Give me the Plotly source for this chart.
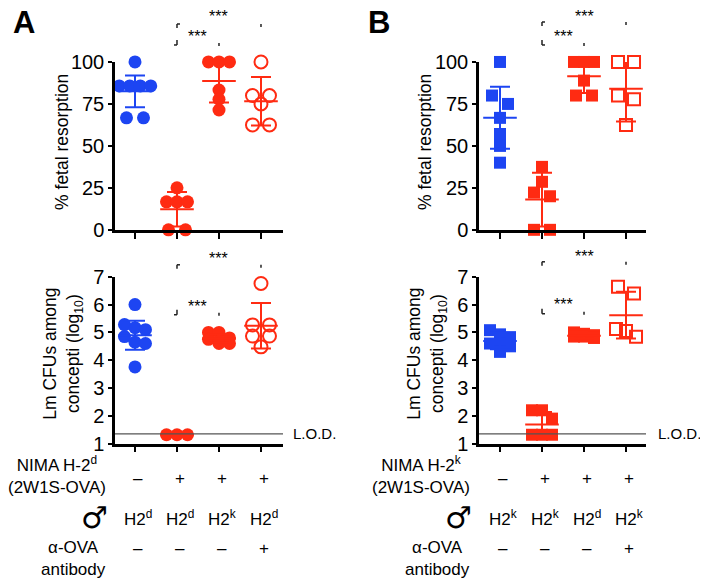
import plotly.graph_objects as go

W, H = 708, 582
FONT = "Liberation Sans, Arial, sans-serif"
BLUE = "#1d45f2"
RED = "#ff2b12"

# ---- data ----
groups_A = ["NIMA-", "NIMA+ H2d", "NIMA+ H2k", "NIMA+ H2d aOVA"]
groups_B = ["NIMA-", "NIMA+ H2k", "NIMA+ H2d", "NIMA+ H2k aOVA"]

# % fetal resorption, panel A
a_res = [
    [100, 85.7, 85.7, 85.7, 85.7, 66.7, 66.7],
    [25, 16.7, 16.7, 16.7, 0, 0],
    [100, 100, 100, 83.3, 77.8, 71.4],
    [100, 80, 80, 75, 62.5, 62.5],
]
a_res_mean = [82.5, 12.3, 88.7, 76.6]
a_res_sd = [9.5, 10.3, 12.8, 14.5]

# log10 CFU, panel A
a_cfu = [
    [6.0, 5.28, 5.17, 5.1, 4.85, 4.65, 4.6, 3.76],
    [1.32, 1.32, 1.32],
    [5.0, 5.0, 4.8, 4.75, 4.7, 4.6, 4.6],
    [6.76, 5.27, 5.27, 4.87, 4.87, 4.48],
]
a_cfu_mean = [4.9, 1.32, 4.78, 5.24]
a_cfu_sd = [0.52, 0.03, 0.15, 0.82]

# % fetal resorption, panel B
b_res = [
    [100, 80, 75, 66.7, 57.1, 50, 40],
    [37.5, 28.6, 22.2, 20, 0, 0],
    [100, 100, 100, 88.9, 80, 80],
    [100, 100, 80, 77.8, 62.5],
]
b_res_mean = [66.8, 18.0, 91.5, 84.0]
b_res_sd = [18.5, 16.0, 10.0, 19.5]

# log10 CFU, panel B
b_cfu = [
    [5.08, 4.93, 4.83, 4.6, 4.6, 4.5, 4.3],
    [2.2, 2.2, 1.9, 1.32, 1.32, 1.32],
    [5.0, 4.95, 4.9, 4.85, 4.85, 4.8],
    [6.64, 6.4, 5.12, 5.05, 4.84],
]
b_cfu_mean = [4.69, 1.69, 4.88, 5.62]
b_cfu_sd = [0.3, 0.45, 0.1, 0.84]

LOD = 1.35

nima_A = ["–", "+", "+", "+"]
male_A = ["H2<sup>d</sup>", "H2<sup>d</sup>", "H2<sup>k</sup>", "H2<sup>d</sup>"]
aova_A = ["–", "–", "–", "+"]
nima_B = ["–", "+", "+", "+"]
male_B = ["H2<sup>k</sup>", "H2<sup>k</sup>", "H2<sup>d</sup>", "H2<sup>k</sup>"]
aova_B = ["–", "–", "–", "+"]

# ---- geometry (pixels of the target picture) ----
# the page places the figure with an offset; these undo it
OFF_X = 8
OFF_Y, SCALE_Y = 17, 0.963
XDOM = {"A": (115, 283), "B": (479, 646)}
XRNG = {"A": (-0.476, 3.524), "B": (-0.5, 3.476)}
YDOM = {"top": (228, 60), "bot": (442, 275)}
YRNG = {"top": (0, 100), "bot": (1, 7)}


def fx(px):
    return (px - OFF_X) / W


def fy(py):
    return 1 - ((py - OFF_Y) / SCALE_Y) / H


def cat_px(p, i):
    d0, d1 = XDOM[p]
    r0, r1 = XRNG[p]
    return d0 + (i - r0) / (r1 - r0) * (d1 - d0)


def px_per_cat(p):
    return (XDOM[p][1] - XDOM[p][0]) / (XRNG[p][1] - XRNG[p][0])


def px_per_unit(row):
    return (YDOM[row][0] - YDOM[row][1]) / (YRNG[row][1] - YRNG[row][0])


def swarm(vals, ppu, d=10.0, d_pair=16.0, h=8.0, max_n=4):
    """Prism-like scatter: points closer than h px in y share a row, rows are centred"""
    order = sorted(range(len(vals)), key=lambda i: -vals[i])
    rows, cur = [], []
    for i in order:
        if cur and ((vals[cur[0]] - vals[i]) * ppu >= h or len(cur) >= max_n):
            rows.append(cur)
            cur = []
        cur.append(i)
    if cur:
        rows.append(cur)
    offs = [0.0] * len(vals)
    for r in rows:
        n = len(r)
        step = d_pair if n == 2 else d
        for j, i in enumerate(r):
            offs[i] = (j - (n - 1) / 2) * step
    return offs


fig = go.Figure()

panels = [
    ("A", "top", "x", "y", a_res, a_res_mean, a_res_sd, "circle"),
    ("B", "top", "x2", "y2", b_res, b_res_mean, b_res_sd, "square"),
    ("A", "bot", "x3", "y3", a_cfu, a_cfu_mean, a_cfu_sd, "circle"),
    ("B", "bot", "x4", "y4", b_cfu, b_cfu_mean, b_cfu_sd, "square"),
]
colors = [BLUE, RED, RED, RED]

for p, row, xa, ya, data, means, sds, sym in panels:
    ppc = px_per_cat(p)
    ppu = px_per_unit(row)
    max_n = 4 if row == "top" else 3
    for i, vals in enumerate(data):
        if sym == "circle":
            offs = swarm(vals, ppu, d=10.5, d_pair=17.0, h=8.0, max_n=max_n)
        else:
            offs = swarm(vals, ppu, d=10.0, d_pair=16.0, h=9.0, max_n=max_n)
        hollow = i == 3
        fig.add_trace(go.Scatter(
            x=[i + o / ppc for o in offs], y=vals, xaxis=xa, yaxis=ya,
            mode="markers", cliponaxis=False, showlegend=False,
            marker=dict(
                symbol=sym + ("-open" if hollow else ""),
                size=13 if sym == "circle" else 12,
                color=colors[i],
                line=dict(width=2 if hollow else 0, color=colors[i]),
            ),
        ))
    for i in range(4):
        # error bar (mean ± SD)
        fig.add_trace(go.Scatter(
            x=[i], y=[means[i]], xaxis=xa, yaxis=ya, mode="markers",
            cliponaxis=False, showlegend=False,
            marker=dict(size=1, color="rgba(0,0,0,0)"),
            error_y=dict(type="data", array=[sds[i]], color=colors[i],
                         thickness=2, width=10),
        ))
        # mean line
        fig.add_trace(go.Scatter(
            x=[i - 0.4, i + 0.4], y=[means[i], means[i]], xaxis=xa, yaxis=ya,
            mode="lines", cliponaxis=False, showlegend=False,
            line=dict(color=colors[i], width=2),
        ))
    if row == "bot":
        fig.add_trace(go.Scatter(
            x=list(XRNG[p]), y=[LOD, LOD], xaxis=xa, yaxis=ya, mode="lines",
            showlegend=False, line=dict(color="#555555", width=1.2),
        ))

# axes
axis_common = dict(showgrid=False, zeroline=False, showline=True, linecolor="black",
                   linewidth=2.5, ticks="outside", tickcolor="black", tickwidth=2,
                   ticklen=5, tickfont=dict(family=FONT, size=20, color="black"))
layout_axes = {}
for k, (p, row, xa, ya, *_rest) in enumerate(panels):
    xname = "xaxis" if xa == "x" else "xaxis" + xa[1:]
    yname = "yaxis" if ya == "y" else "yaxis" + ya[1:]
    layout_axes[xname] = dict(
        axis_common, domain=[fx(XDOM[p][0]), fx(XDOM[p][1])], range=list(XRNG[p]),
        anchor=ya, tickvals=[0, 1, 2, 3], showticklabels=False, ticklen=6)
    yt = [0, 25, 50, 75, 100] if row == "top" else [1, 2, 3, 4, 5, 6, 7]
    layout_axes[yname] = dict(
        axis_common, domain=[fy(YDOM[row][0]), fy(YDOM[row][1])], range=list(YRNG[row]),
        anchor=xa, tickvals=yt, ticklen=4)

ann = []
shapes = []


def text(x, y, s, size=17, xanchor="center", yanchor="middle", bold=False, angle=0,
         family=FONT):
    ann.append(dict(
        x=fx(x), y=fy(y), xref="paper", yref="paper", text="<b>%s</b>" % s if bold else s,
        showarrow=False, xanchor=xanchor, yanchor=yanchor, textangle=angle,
        font=dict(family=family, size=size, color="black")))


def seg(x0, y0, x1, y1):
    shapes.append(dict(type="line", xref="paper", yref="paper",
                       x0=fx(x0), y0=fy(y0), x1=fx(x1), y1=fy(y1),
                       line=dict(color="#222222", width=1.5)))


# panel letters
text(11, 21, "A", size=31, xanchor="left", bold=True)
text(366, 21, "B", size=31, xanchor="left", bold=True)

# y titles
text(62, 140, "% fetal resorption", size=17.5, angle=-90)
text(425, 140, "% fetal resorption", size=17.5, angle=-90)
text(63, 352, "Lm CFUs among<br>concepti (log<sub>10</sub>)", size=17.5, angle=-90)
text(427, 352, "Lm CFUs among<br>concepti (log<sub>10</sub>)", size=17.5, angle=-90)

# L.O.D.
text(291, 432, "L.O.D.", size=15, xanchor="left")
text(656, 432, "L.O.D.", size=15, xanchor="left")

# significance marks (partial brackets as in the original)
for p, y_up, y_lo, star_up, star_lo, foot in [
    ("A", 22, 38, 14, 35, -1), ("B", 20, 38, 14, 35, 1),
    ("A", 263, 308, 257, 305, -1), ("B", 260, 307, 255, 303, 1),
]:
    x1, x2, x3 = cat_px(p, 1), cat_px(p, 2), cat_px(p, 3)
    seg(x1, y_up, x1 + 3, y_up)
    seg(x1, y_up, x1, y_up + 4)
    seg(x1, y_lo, x1, y_lo + 5)
    seg(x1, y_lo + 5, x1 + 3 * foot, y_lo + 5)
    seg(x3, y_up, x3, y_up + 3)
    seg(x2, y_lo + 3, x2, y_lo + 6)
    text(x2, star_up, "***", size=16)
    text((x1 + x2) / 2, star_lo, "***", size=16)

# condition rows under the plots
for p, nima_lbl, nima, male, aova, rx in [
    ("A", "NIMA H-2<sup>d</sup>", nima_A, male_A, aova_A, 108),
    ("B", "NIMA H-2<sup>k</sup>", nima_B, male_B, aova_B, 472),
]:
    text(rx, 473, nima_lbl + "<br>(2W1S-OVA)", size=17, xanchor="right")
    text(rx + 2, 516, "♂", size=30, xanchor="right", bold=True, family="DejaVu Sans")
    text(rx, 557, "α-OVA<br>antibody", size=17, xanchor="right")
    for i in range(4):
        cx = cat_px(p, i) + 3
        text(cx, 477, nima[i], size=17)
        text(cx, 516, male[i], size=17)
        text(cx, 547, aova[i], size=17)

fig.update_layout(
    width=W, height=H, margin=dict(l=0, r=0, t=0, b=0),
    plot_bgcolor="white", paper_bgcolor="white",
    font=dict(family=FONT, color="black"),
    annotations=ann, shapes=shapes, showlegend=False,
    **layout_axes,
)

fig.write_html("out.html")
